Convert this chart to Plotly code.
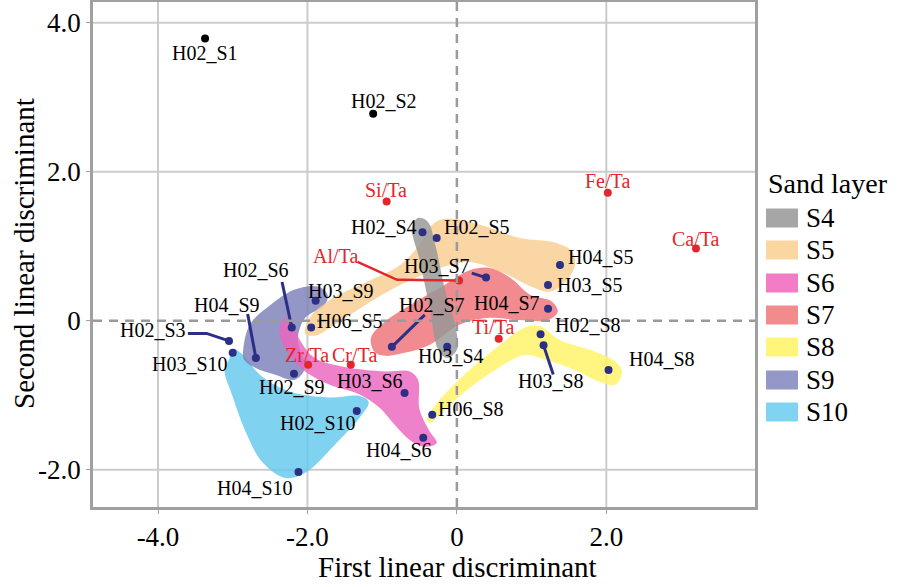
import plotly.graph_objects as go

# ---------------- data ----------------
# Outlier samples (black points)
outlier_names = ["H02_S1", "H02_S2"]
outlier_x = [-3.37, -1.12]
outlier_y = [3.79, 2.78]
outlier_label_x = [-3.37, -0.98]
outlier_label_y = [3.60, 2.95]

# Element ratios (red points)
ratio_names = ["Si/Ta", "Fe/Ta", "Ca/Ta", "Al/Ta", "Ti/Ta", "Zr/Ta", "Cr/Ta"]
ratio_x = [-0.94, 2.02, 3.20, 0.03, 0.56, -1.99, -1.42]
ratio_y = [1.60, 1.72, 0.97, 0.54, -0.24, -0.59, -0.59]
ratio_label_x = [-0.95, 2.01, 3.20, -1.62, 0.48, -2.00, -1.37]
ratio_label_y = [1.76, 1.88, 1.10, 0.87, -0.09, -0.46, -0.46]

# Samples (blue points)
sample_names = ["H02_S3", "H03_S10", "H04_S9", "H02_S6", "H03_S9", "H06_S5",
                "H02_S9", "H02_S10", "H04_S10", "H03_S6", "H04_S6", "H06_S8",
                "H03_S4", "H02_S7", "H02_S4", "H02_S5", "H03_S7", "H04_S5",
                "H03_S5", "H04_S7", "H02_S8", "H03_S8", "H04_S8"]
sample_x = [-3.05, -3.00, -2.69, -2.21, -1.89, -1.95,
            -2.18, -1.34, -2.12, -0.70, -0.45, -0.33,
            -0.13, -0.87, -0.46, -0.27, 0.39, 1.38,
            1.22, 1.22, 1.12, 1.16, 2.03]
sample_y = [-0.27, -0.43, -0.50, -0.09, 0.27, -0.09,
            -0.71, -1.21, -2.03, -0.97, -1.57, -1.26,
            -0.35, -0.35, 1.19, 1.11, 0.58, 0.75,
            0.48, 0.16, -0.18, -0.33, -0.66]
sample_label_x = [-4.07, -3.57, -3.07, -2.69, -1.55, -1.43,
                  -2.21, -1.86, -2.70, -1.16, -0.78, 0.19,
                  -0.08, -0.33, -0.98, 0.27, -0.27, 1.93,
                  1.78, 0.67, 1.75, 1.26, 2.74]
sample_label_y = [-0.12, -0.58, 0.21, 0.68, 0.40, 0.00,
                  -0.89, -1.37, -2.24, -0.81, -1.74, -1.18,
                  -0.47, 0.21, 1.26, 1.26, 0.74, 0.85,
                  0.48, 0.24, -0.05, -0.81, -0.51]

# Leader lines (label -> point)
leader_names = ["H02_S3", "H04_S9", "H02_S6", "H02_S7", "H03_S7", "H03_S8"]
leader_x = [[-3.60, -3.35, -3.05], [-2.80, -2.69], [-2.34, -2.21],
            [-0.43, -0.87], [0.20, 0.39], [1.16, 1.29]]
leader_y = [[-0.17, -0.17, -0.27], [0.09, -0.50], [0.52, -0.09],
            [0.08, -0.35], [0.64, 0.58], [-0.33, -0.72]]
al_leader_x = [-1.33, -0.80, 0.03]
al_leader_y = [0.79, 0.55, 0.54]

# Sand layer envelopes
layer_names = ["S4", "S5", "S6", "S7", "S8", "S9", "S10"]
layer_colors = ["rgba(150,150,150,0.82)", "rgba(248,204,140,0.80)",
                "rgba(236,100,190,0.82)", "rgba(238,110,115,0.80)",
                "rgba(255,243,100,0.82)", "rgba(125,128,185,0.82)",
                "rgba(100,200,238,0.82)"]
legend_colors = ["#a6a6a6", "#fad7a0", "#f27dc6", "#f28c8c", "#fff57a", "#9498c7", "#80d4f2"]

s4_x = [-0.52, -0.39, -0.29, -0.16, -0.01, 0.00, -0.13, -0.25, -0.36, -0.50, -0.60]
s4_y = [1.38, 1.33, 1.02, 0.42, -0.12, -0.39, -0.50, -0.39, 0.15, 0.82, 1.25]
s5_x = [-2.03, -1.97, -1.70, -1.23, -0.76, -0.50, -0.33, -0.16, 0.31, 0.84, 1.31, 1.54,
        1.58, 1.45, 1.24, 1.04, 0.58, 0.17, -0.23, -0.76, -1.23, -1.63, -1.90]
s5_y = [-0.17, 0.04, 0.28, 0.51, 0.75, 1.02, 1.29, 1.37, 1.29, 1.11, 1.05, 0.93,
        0.75, 0.52, 0.39, 0.44, 0.66, 0.79, 0.71, 0.48, 0.21, -0.05, -0.20]
s6_x = [-2.33, -2.24, -2.10, -1.90, -1.50, -0.96, -0.63, -0.52, -0.50, -0.36, -0.27,
        -0.43, -0.63, -0.83, -1.03, -1.30, -1.70, -2.03, -2.24, -2.37]
s6_y = [0.01, 0.04, -0.26, -0.50, -0.62, -0.68, -0.68, -0.79, -1.19, -1.49, -1.64,
        -1.69, -1.60, -1.40, -1.17, -0.99, -0.86, -0.68, -0.46, -0.19]
s7_x = [-1.10, -1.15, -0.96, -0.63, -0.23, 0.17, 0.44, 0.71, 0.98, 1.27, 1.35, 1.22,
        0.84, 0.44, 0.04, -0.36, -0.70, -0.96]
s7_y = [-0.42, -0.23, -0.01, 0.21, 0.44, 0.68, 0.71, 0.58, 0.35, 0.26, 0.12, 0.01,
        0.01, 0.04, -0.05, -0.32, -0.43, -0.47]
s8_x = [-0.40, -0.23, 0.17, 0.58, 0.91, 1.11, 1.38, 1.78, 2.12, 2.21, 2.12, 1.91, 1.58,
        1.18, 0.91, 0.51, 0.11, -0.23, -0.36]
s8_y = [-1.33, -1.06, -0.66, -0.32, -0.09, -0.07, -0.26, -0.39, -0.55, -0.68, -0.86,
        -0.82, -0.66, -0.52, -0.46, -0.66, -0.95, -1.26, -1.37]
s9_x = [-2.86, -2.77, -2.50, -2.17, -1.86, -1.73, -1.77, -2.03, -2.13, -2.03, -2.17,
        -2.44, -2.70, -2.85]
s9_y = [-0.39, -0.05, 0.21, 0.42, 0.46, 0.35, 0.21, 0.04, -0.26, -0.63, -0.79,
        -0.72, -0.63, -0.52]
s10_x = [-3.05, -2.99, -2.86, -2.64, -2.24, -1.70, -1.30, -1.18, -1.30, -1.63, -2.03,
         -2.30, -2.61, -2.84, -3.01, -3.11]
s10_y = [-0.52, -0.38, -0.46, -0.72, -0.95, -1.03, -1.01, -1.09, -1.30, -1.66, -2.04,
         -2.11, -1.89, -1.46, -0.99, -0.66]
layer_x = [s4_x, s5_x, s6_x, s7_x, s8_x, s9_x, s10_x]
layer_y = [s4_y, s5_y, s6_y, s7_y, s8_y, s9_y, s10_y]

# Axes
x_tick_vals = [-4, -2, 0, 2]
x_tick_text = ["-4.0", "-2.0", "0", "2.0"]
y_tick_vals = [-2, 0, 2, 4]
y_tick_text = ["-2.0", "0", "2.0", "4.0"]
x_range = [-4.87, 3.99]
y_range = [-2.50, 4.28]
x_title = "First linear discriminant"
y_title = "Second linear discriminant"

# ---------------- figure ----------------
FONT = "Liberation Serif, Times New Roman, serif"
NAVY = "#2b2f86"
RED = "#e3262b"
GRID = "#cccccc"

ML, MR, MT, MB = 93, 147, 2, 80
W, H = 902, 587
PW, PH = W - ML - MR, H - MT - MB


def px2paper_x(px):
    return (px - ML) / PW


def px2paper_y(py):
    return (H - MB - py) / PH


fig = go.Figure()

# envelopes, drawn in an order that puts S4 on top
draw_order = [6, 5, 1, 2, 3, 4, 0]
for i in draw_order:
    xs = layer_x[i] + [layer_x[i][0]]
    ys = layer_y[i] + [layer_y[i][0]]
    fig.add_trace(go.Scatter(x=xs, y=ys, mode="lines", fill="toself",
                             fillcolor=layer_colors[i],
                             line=dict(width=0, shape="spline", smoothing=1.0, color=layer_colors[i]),
                             name=layer_names[i], showlegend=False, hoverinfo="skip"))

# leader lines
for lx, ly in zip(leader_x, leader_y):
    fig.add_trace(go.Scatter(x=lx, y=ly, mode="lines", line=dict(color=NAVY, width=3),
                             showlegend=False, hoverinfo="skip"))
fig.add_trace(go.Scatter(x=al_leader_x, y=al_leader_y, mode="lines",
                         line=dict(color=RED, width=2.5), showlegend=False, hoverinfo="skip"))

# points
fig.add_trace(go.Scatter(x=sample_x, y=sample_y, mode="markers", text=sample_names,
                         marker=dict(color=NAVY, size=8), showlegend=False))
fig.add_trace(go.Scatter(x=ratio_x, y=ratio_y, mode="markers", text=ratio_names,
                         marker=dict(color=RED, size=8), showlegend=False))
fig.add_trace(go.Scatter(x=outlier_x, y=outlier_y, mode="markers", text=outlier_names,
                         marker=dict(color="black", size=8), showlegend=False))

annotations = []
for n, x, y in zip(sample_names + outlier_names, sample_label_x + outlier_label_x,
                   sample_label_y + outlier_label_y):
    annotations.append(dict(x=x, y=y, xref="x", yref="y", text=n, showarrow=False,
                            xanchor="center", yanchor="middle",
                            font=dict(family=FONT, size=20, color="black")))
for n, x, y in zip(ratio_names, ratio_label_x, ratio_label_y):
    annotations.append(dict(x=x, y=y, xref="x", yref="y", text=n, showarrow=False,
                            xanchor="center", yanchor="middle",
                            font=dict(family=FONT, size=20, color=RED)))

shapes = []
# grid lines
for v in x_tick_vals:
    if v != 0:
        shapes.append(dict(type="line", xref="x", yref="paper", x0=v, x1=v, y0=0, y1=1,
                           line=dict(color=GRID, width=2), layer="below"))
for v in y_tick_vals:
    if v != 0:
        shapes.append(dict(type="line", xref="paper", yref="y", x0=0, x1=1, y0=v, y1=v,
                           line=dict(color=GRID, width=2), layer="below"))
# dashed zero lines
shapes.append(dict(type="line", xref="x", yref="paper", x0=0, x1=0, y0=0, y1=1,
                   line=dict(color="#9a9a9a", width=2.5, dash="9px,7px"), layer="above"))
shapes.append(dict(type="line", xref="paper", yref="y", x0=0, x1=1, y0=0, y1=0,
                   line=dict(color="#9a9a9a", width=2.5, dash="9px,7px"), layer="above"))

# axis titles
annotations.append(dict(x=px2paper_x(457), y=px2paper_y(567), xref="paper", yref="paper",
                        text=x_title, showarrow=False, xanchor="center", yanchor="middle",
                        font=dict(family=FONT, size=29, color="black")))
annotations.append(dict(x=px2paper_x(24), y=px2paper_y(254), xref="paper", yref="paper",
                        text=y_title, showarrow=False, xanchor="center", yanchor="middle",
                        textangle=-90, font=dict(family=FONT, size=29, color="black")))

# manual legend
annotations.append(dict(x=px2paper_x(766), y=px2paper_y(183), xref="paper", yref="paper",
                        text="Sand layer", showarrow=False, xanchor="left", yanchor="middle",
                        font=dict(family=FONT, size=28, color="black")))
legend_y_px = [218, 250, 283, 315, 347, 380, 412]
for name, col, py in zip(layer_names, legend_colors, legend_y_px):
    shapes.append(dict(type="rect", xref="paper", yref="paper",
                       x0=px2paper_x(766), x1=px2paper_x(798),
                       y0=px2paper_y(py + 9.5), y1=px2paper_y(py - 9.5),
                       fillcolor=col, line=dict(width=0)))
    annotations.append(dict(x=px2paper_x(804), y=px2paper_y(py), xref="paper", yref="paper",
                            text=name, showarrow=False, xanchor="left", yanchor="middle",
                            font=dict(family=FONT, size=27, color="black")))

fig.update_layout(
    width=W, height=H,
    margin=dict(l=ML, r=MR, t=MT, b=MB, autoexpand=False),
    paper_bgcolor="white", plot_bgcolor="white",
    font=dict(family=FONT, size=27, color="black"),
    shapes=shapes, annotations=annotations,
    showlegend=False,
)
fig.update_xaxes(range=x_range, tickvals=x_tick_vals, ticktext=x_tick_text,
                 showgrid=False, zeroline=False, showline=True, mirror=True,
                 linecolor="#a0a0a0", linewidth=2.5, ticks="outside", ticklen=4,
                 tickcolor="#a0a0a0", tickfont=dict(family=FONT, size=27),
                 automargin=False)
fig.update_yaxes(range=y_range, tickvals=y_tick_vals, ticktext=y_tick_text,
                 showgrid=False, zeroline=False, showline=True, mirror=True,
                 linecolor="#a0a0a0", linewidth=2.5, ticks="outside", ticklen=4,
                 tickcolor="#a0a0a0", tickfont=dict(family=FONT, size=27),
                 automargin=False)

fig.write_html("out.html", config={"displayModeBar": False},
               post_script="document.body.style.margin='0px';")
